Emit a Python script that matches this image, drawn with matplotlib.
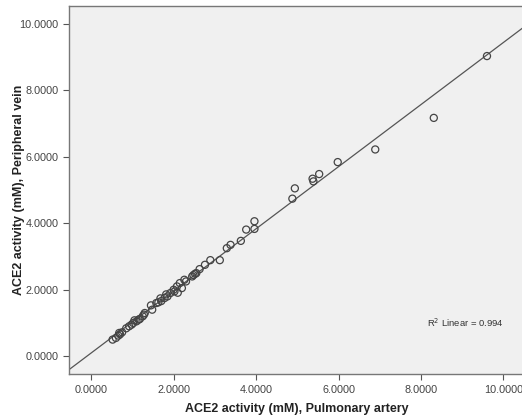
import numpy as np
import matplotlib.pyplot as plt

plt.rcParams['font.family'] = ['Liberation Sans', 'DejaVu Sans']

# ACE2 activity (mM): pulmonary artery vs peripheral vein
pa = [0.52, 0.60, 0.66, 0.68, 0.70, 0.75, 0.85, 0.92, 0.98, 1.02,
      1.05, 1.10, 1.15, 1.18, 1.25, 1.28, 1.30, 1.45, 1.48, 1.58,
      1.63, 1.68, 1.70, 1.78, 1.82, 1.85, 1.92, 2.00, 2.02, 2.08,
      2.10, 2.15, 2.20, 2.26, 2.30, 2.45, 2.48, 2.52, 2.55, 2.63,
      2.76, 2.89, 3.12, 3.29, 3.38, 3.63, 3.76, 3.96, 3.96, 4.88,
      4.94, 5.37, 5.39, 5.53, 5.98, 6.89, 8.31, 9.60]
pv = [0.50, 0.55, 0.62, 0.70, 0.66, 0.72, 0.84, 0.90, 0.95, 1.00,
      1.08, 1.05, 1.10, 1.12, 1.20, 1.25, 1.30, 1.53, 1.40, 1.60,
      1.62, 1.74, 1.66, 1.75, 1.86, 1.80, 1.90, 2.00, 1.95, 2.10,
      1.91, 2.20, 2.05, 2.30, 2.25, 2.40, 2.44, 2.48, 2.50, 2.62,
      2.75, 2.89, 2.89, 3.25, 3.35, 3.47, 3.81, 3.83, 4.06, 4.74,
      5.05, 5.34, 5.26, 5.48, 5.84, 6.22, 7.17, 9.03]
ticks = [0, 2, 4, 6, 8, 10]
r2_label = 'R$^2$ Linear = 0.994'

fig = plt.figure(figsize=(5.22, 4.19), dpi=100)
ax = fig.add_axes([0.132, 0.107, 0.872, 0.879])
ax.set_facecolor('#f0f0f0')

xlim = (-0.54, 10.5)
ylim = (-0.54, 10.54)

# linear fit line across the whole plot
slope, icpt = np.polyfit(pa, pv, 1)
xx = np.array(xlim)
ax.plot(xx, slope * xx + icpt, color='#555555', lw=0.9, zorder=2)

ax.scatter(pa, pv, s=26, facecolors='none', edgecolors='#444444',
           linewidths=0.9, zorder=3)

ax.text(8.15, 1.0, r2_label, fontsize=6.8, color='#333333', va='center')

ax.set_xlim(xlim)
ax.set_ylim(ylim)
ax.set_xticks(ticks)
ax.set_yticks(ticks)
ax.set_xticklabels(['%.4f' % t for t in ticks])
ax.set_yticklabels(['%.4f' % t for t in ticks])
ax.tick_params(direction='out', length=4, width=0.8, colors='#555555',
               labelsize=7.8, labelcolor='#444444')

for s in ['left', 'bottom', 'top']:
    ax.spines[s].set_color('#777777')
    ax.spines[s].set_linewidth(1.0)
ax.spines['right'].set_visible(False)

ax.set_xlabel('ACE2 activity (mM), Pulmonary artery', fontsize=9,
              fontweight='bold', color='#222222')
ax.set_ylabel('ACE2 activity (mM), Peripheral vein', fontsize=9,
              fontweight='bold', color='#222222')
ax.xaxis.set_label_coords(0.5, -0.078)
ax.yaxis.set_label_coords(-0.096, 0.5)

fig.savefig('out.png', dpi=100)
